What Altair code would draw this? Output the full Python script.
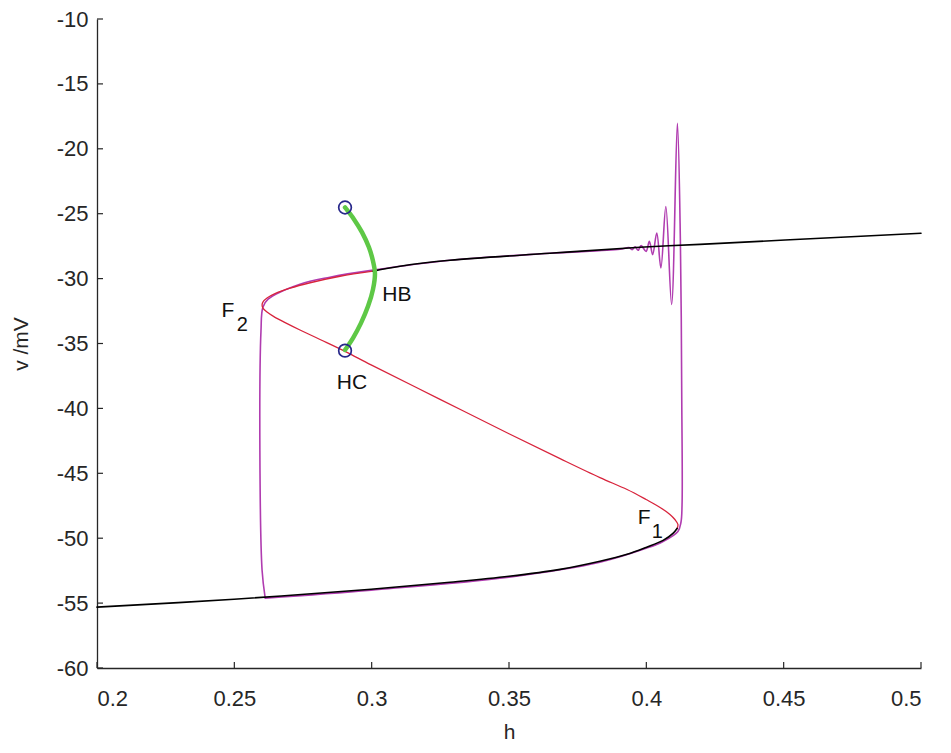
import altair as alt
import pandas as pd

# ---------------- data ----------------
x_ticks = [0.2, 0.25, 0.3, 0.35, 0.4, 0.45, 0.5]
y_ticks = [-60, -55, -50, -45, -40, -35, -30, -25, -20, -15, -10]

# lower stable branch (black)
low_h = [0.2, 0.2499, 0.2998, 0.3285, 0.35, 0.3686, 0.3831, 0.3930, 0.3999, 0.4061, 0.4097, 0.4112]
low_v = [-55.31, -54.70, -53.93, -53.39, -52.93, -52.40, -51.78, -51.24, -50.71, -50.17, -49.63, -49.25]

# unstable branch F1 -> F2 -> HB (red)
mid_h = [0.4112, 0.4115, 0.4104, 0.4086, 0.4050, 0.3999, 0.3930, 0.3831, 0.3686, 0.35,
         0.3249, 0.2998, 0.2903, 0.2812, 0.2739, 0.2685, 0.2644, 0.2619, 0.2604, 0.2601,
         0.2604, 0.2619, 0.2648, 0.2703, 0.2776, 0.2885, 0.3005]
mid_v = [-49.25, -48.94, -48.56, -48.17, -47.63, -47.02, -46.25, -45.33, -43.87, -41.95,
         -39.30, -36.65, -35.61, -34.69, -33.96, -33.39, -32.93, -32.58, -32.27, -32.04,
         -31.81, -31.50, -31.16, -30.74, -30.32, -29.82, -29.43]

# upper stable branch HB -> right (black)
up_h = [0.3005, 0.3103, 0.3285, 0.3649, 0.3977, 0.4195, 0.4560, 0.5]
up_v = [-29.43, -29.05, -28.59, -28.05, -27.59, -27.36, -26.97, -26.51]

# branch of periodic orbits HC -> HB -> HC (green)
orb_h = [0.2903, 0.2936, 0.2965, 0.2990, 0.3005, 0.3012, 0.3005, 0.2987, 0.2961, 0.2932, 0.2903]
orb_v = [-24.52, -25.44, -26.44, -27.59, -28.66, -29.59, -30.81, -32.12, -33.43, -34.58, -35.50]

# HC end points (blue circles)
hc_h = [0.2903, 0.2903]
hc_v = [-24.52, -35.55]

# trajectory (magenta)
traj_h = [0.2612, 0.2601, 0.2593, 0.2597, 0.2604, 0.2623, 0.2739, 0.2848, 0.3005, 0.3285,
          0.3649, 0.3904, 0.3937, 0.3948, 0.3959, 0.3970, 0.3981, 0.3999, 0.4011, 0.4023,
          0.4038, 0.4053, 0.4071, 0.4092, 0.4113, 0.4124, 0.4129, 0.4130, 0.4126, 0.4115,
          0.4061, 0.3999, 0.3831, 0.35, 0.2998, 0.2612]
traj_v = [-54.55, -52.47, -43.26, -34.04, -32.20, -31.58, -30.43, -29.89, -29.35, -28.59,
          -28.05, -27.74, -27.61, -27.77, -27.55, -27.82, -27.46, -27.90, -27.13, -28.15,
          -26.49, -29.18, -24.44, -31.99, -18.04, -27.13, -39.42, -47.48, -48.79, -49.48,
          -50.25, -50.78, -51.85, -53.00, -54.00, -54.62]

# annotations
lab_text = ["F", "HB", "HC", "F"]
lab_h = [0.2477, 0.3092, 0.2928, 0.3992]
lab_v = [-32.96, -31.74, -38.49, -48.94]
sub_text = ["2", "1"]
sub_h = [0.2529, 0.4040]
sub_v = [-34.0, -50.0]

# ---------------- chart ----------------
FONT = "Liberation Sans"
TXT = "#262626"
H = 649


def path(h, v):
    return pd.DataFrame({"h": h, "v": v, "i": list(range(len(h)))})


xs = alt.Scale(domain=[0.2, 0.5], nice=False, zero=False)
ys = alt.Scale(domain=[-60, -10], nice=False, zero=False)
X = alt.X("h:Q", scale=xs, title="h",
          axis=alt.Axis(values=x_ticks, labelExpr="'' + datum.value", labelPadding=20,
                        titlePadding=12))
Y = alt.Y("v:Q", scale=ys, title="v /mV",
          axis=alt.Axis(values=y_ticks, labelExpr="'' + datum.value", labelPadding=9,
                        titlePadding=25))


def line(h, v, color, width, interp="catmull-rom"):
    return alt.Chart(path(h, v)).mark_line(color=color, strokeWidth=width, strokeCap="round",
                                           strokeJoin="round", interpolate=interp).encode(
        x=X, y=Y, order="i:Q")


traj = line(traj_h, traj_v, "#b03cb0", 1.6)
red = line(mid_h, mid_v, "#d8243c", 1.3)
low = line(low_h, low_v, "#000000", 1.6)
up = line(up_h, up_v, "#000000", 1.6)
orb = line(orb_h, orb_v, "#5ec846", 4.5)

circles = alt.Chart(pd.DataFrame({"h": hc_h, "v": hc_v})).mark_point(
    shape="circle", size=160, filled=False, color="#27278a", strokeWidth=1.7, opacity=1
).encode(x=X, y=Y)

xt = alt.Chart(pd.DataFrame({"h": x_ticks})).mark_rule(color=TXT, strokeWidth=1.2).encode(
    x=X, y=alt.value(H - 6), y2=alt.value(H))
yt = alt.Chart(pd.DataFrame({"v": y_ticks})).mark_rule(color=TXT, strokeWidth=1.2).encode(
    y=Y, x=alt.value(0), x2=alt.value(6))

labels = alt.Chart(pd.DataFrame({"h": lab_h, "v": lab_v, "t": lab_text})).mark_text(
    font=FONT, fontSize=21, align="center", baseline="alphabetic", color="#111111"
).encode(x=X, y=Y, text="t:N")
subs = alt.Chart(pd.DataFrame({"h": sub_h, "v": sub_v, "t": sub_text})).mark_text(
    font=FONT, fontSize=20, align="center", baseline="alphabetic", color="#111111"
).encode(x=X, y=Y, text="t:N")

chart = alt.layer(traj, red, low, up, orb, circles, xt, yt, labels, subs).properties(
    width=824, height=H,
    padding={"left": 89, "top": 11, "right": 20, "bottom": 82},
    autosize=alt.AutoSizeParams(type="none"),
    background="white",
).configure_view(stroke=None).configure_axis(
    grid=False, ticks=False,
    domainColor=TXT, domainWidth=1.3,
    labelFont=FONT, labelFontSize=22, labelColor=TXT,
    titleFont=FONT, titleFontSize=21, titleFontWeight="normal", titleColor=TXT,
)

chart.save("out.html", embed_options={"renderer": "svg", "actions": False})
